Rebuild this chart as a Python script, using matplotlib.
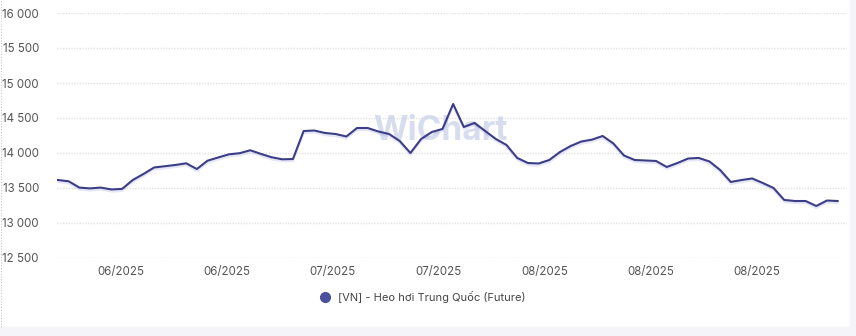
import matplotlib
matplotlib.use("Agg")
import matplotlib.pyplot as plt
import matplotlib.patheffects as pe
from matplotlib.lines import Line2D
from matplotlib.ticker import FuncFormatter
import numpy as np

# Heo hoi Trung Quoc (Future) - daily values
prices = [13614, 13596, 13506, 13494, 13506, 13479, 13487, 13614, 13700, 13793,
          13811, 13829, 13853, 13771, 13890, 13936, 13981, 13997, 14039, 13987,
          13939, 13910, 13914, 14314, 14321, 14286, 14271, 14236, 14357, 14357,
          14307, 14271, 14171, 14000, 14200, 14300, 14343, 14700, 14371, 14429,
          14314, 14200, 14114, 13929, 13857, 13850, 13900, 14014, 14100, 14164,
          14191, 14243, 14136, 13964, 13900, 13893, 13886, 13800, 13857, 13921,
          13929, 13879, 13757, 13586, 13614, 13636, 13571, 13500, 13329, 13314,
          13314, 13243, 13321, 13314]
tick_labels = ["06/2025", "06/2025", "07/2025", "07/2025", "08/2025", "08/2025", "08/2025"]
y_ticks = [12500, 13000, 13500, 14000, 14500, 15000, 15500, 16000]
series_name = "[VN] - Heo hơi Trung Quốc (Future)"

plt.rcParams['font.family'] = ['Inter', 'DejaVu Sans']

fig = plt.figure(figsize=(8.56, 3.36), dpi=100)
fig.patch.set_facecolor("white")

# light page strips at bottom / right
fig.patches.append(plt.Rectangle((0, 0), 1, 9 / 336, transform=fig.transFigure,
                                 color="#f4f4f9", zorder=0))
fig.patches.append(plt.Rectangle((850 / 856, 0), 6 / 856, 1, transform=fig.transFigure,
                                 color="#f4f4f9", zorder=0))
fig.add_artist(Line2D([1 / 856, 1 / 856], [9 / 336, 1], transform=fig.transFigure,
                      color="#c8c8c8", lw=0.8, ls=(0, (1, 1.5))))

ax = fig.add_axes([57 / 856, 1 - 258 / 336, (847 - 57) / 856, 245 / 336])
x = np.arange(len(prices))
line_color = "#3b3d86"
ax.plot(x, prices, color=line_color, lw=1.5, solid_joinstyle="round",
        path_effects=[pe.SimpleLineShadow(offset=(0, -1.5), shadow_color="#8a90d8", alpha=0.22),
                      pe.Normal()], zorder=3)

step = 10.68
ax.set_xlim(-1 / step, (847 - 58) / step)
ax.set_ylim(12500, 16000)
ax.set_yticks(y_ticks)
ax.yaxis.set_major_formatter(FuncFormatter(lambda v, p: f"{int(v):,}".replace(",", " ")))
ax.set_xticks(np.linspace(5.9, 65.4, len(tick_labels)))
ax.set_xticklabels(tick_labels)

ax.grid(axis="y", color="#e2e2e2", lw=1, ls=(0, (1, 1)))
ax.set_axisbelow(True)
for s in ax.spines.values():
    s.set_visible(False)
ax.tick_params(axis="both", length=0, labelsize=8.3, colors="#555555")
ax.tick_params(axis="y", pad=13)
ax.tick_params(axis="x", pad=6)

# watermark
ax.text(0.485, 0.52, "WiChart", transform=ax.transAxes, ha="center", va="center",
        fontsize=24, fontweight="bold", color="#cbd1ea", alpha=0.75, zorder=1)

handle = Line2D([], [], marker="o", ls="none", color="#4a4f9e", markersize=7)
fig.legend([handle], [series_name], loc="center", bbox_to_anchor=(0.49, 1 - 297 / 336),
           frameon=False, fontsize=8, handletextpad=0.2, labelcolor="#444444")

fig.savefig("out.png", dpi=100, facecolor="white")
